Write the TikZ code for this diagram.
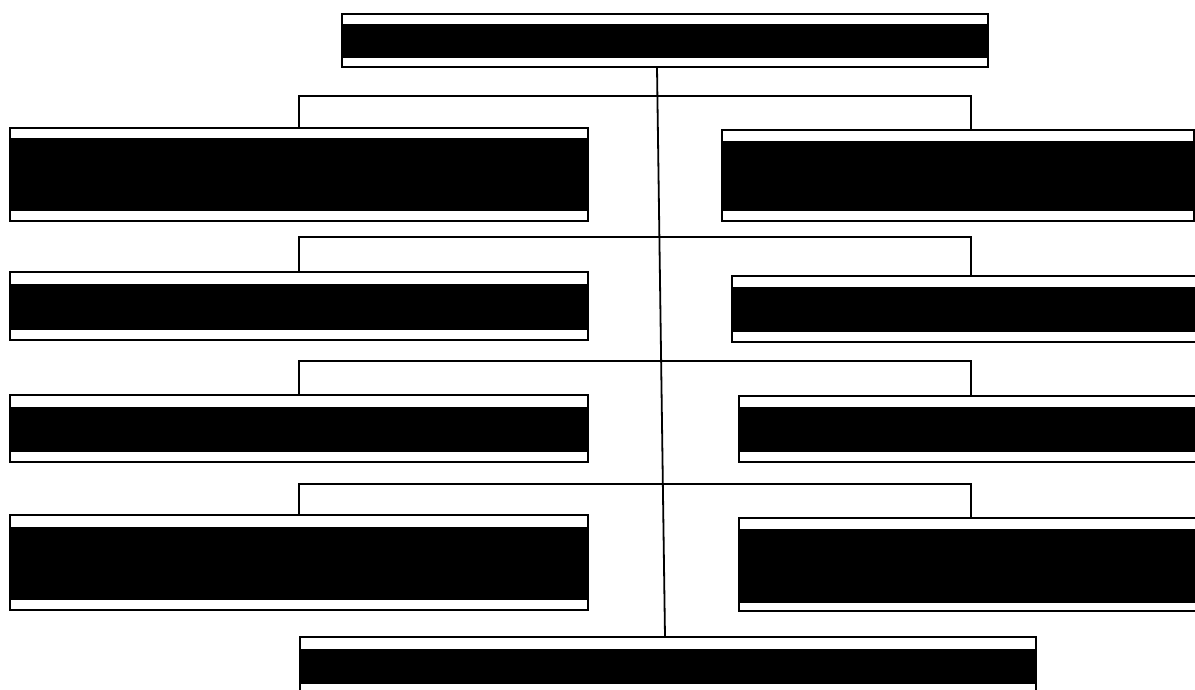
\documentclass[tikz,border=0pt]{standalone}
\begin{document}
\begin{tikzpicture}[x=1pt,y=-1pt,
  ubox/.style 2 args={draw, line width=1.8pt, inner sep=0pt, outer sep=0pt, fill=white,
    path picture={\fill[black] ([xshift=1.2pt,yshift=-#1pt]path picture bounding box.north west) rectangle ([xshift=-1.2pt,yshift=#2pt]path picture bounding box.south east);}},
  conn/.style={draw, line width=1.8pt}]
\path[use as bounding box, fill=white] (0,0) rectangle (1195,690);
\clip (0,0) rectangle (1195,690);
% boxes
\node[ubox={10}{9}, minimum width=646pt, minimum height=53pt] (T) at (665,40.5) {};
\node[ubox={10}{10}, minimum width=578pt, minimum height=93pt] (L1) at (299,174.5) {};
\node[ubox={11}{10}, minimum width=472pt, minimum height=91pt] (R1) at (958,175.5) {};
\node[ubox={12}{10}, minimum width=578pt, minimum height=68pt] (L2) at (299,306) {};
\node[ubox={11}{10}, minimum width=483pt, minimum height=66pt] (R2) at (973.5,309) {};
\node[ubox={12}{10}, minimum width=578pt, minimum height=67pt] (L3) at (299,428.5) {};
\node[ubox={11}{10}, minimum width=476pt, minimum height=66pt] (R3) at (977,429) {};
\node[ubox={12}{10}, minimum width=578pt, minimum height=95pt] (L4) at (299,562.5) {};
\node[ubox={11}{8}, minimum width=476pt, minimum height=93pt] (R4) at (977,564.5) {};
\node[ubox={12}{11}, minimum width=736pt, minimum height=58pt] (B) at (668,666) {};
% bracket corners
\coordinate (h1) at (971,96);
\coordinate (h2) at (971,237);
\coordinate (h3) at (971,361);
\coordinate (h4) at (971,484);
\draw[conn] (L1.north) |- (h1) -- (h1 |- R1.north);
\draw[conn] (L2.north) |- (h2) -- (h2 |- R2.north);
\draw[conn] (L3.north) |- (h3) -- (h3 |- R3.north);
\draw[conn] (L4.north) |- (h4) -- (h4 |- R4.north);
% central spine
\draw[conn] ([xshift=-8pt]T.south) -- ([xshift=-3pt]B.north);
\end{tikzpicture}
\end{document}
